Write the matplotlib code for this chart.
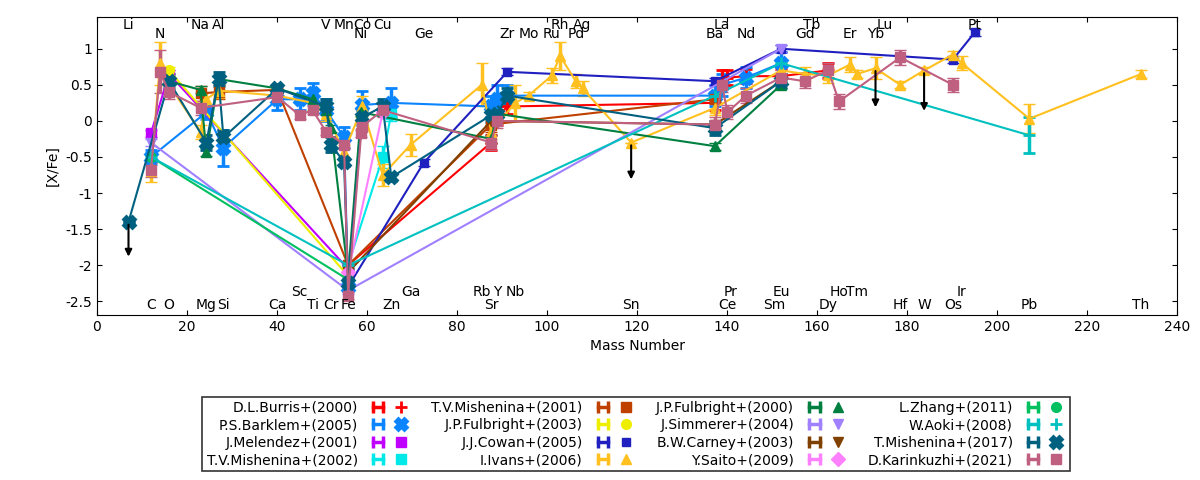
import matplotlib
matplotlib.use("Agg")
import matplotlib.pyplot as plt
from matplotlib.lines import Line2D
from matplotlib.legend_handler import HandlerLine2D, HandlerTuple

# mass numbers of the elements
mass = {
    'Li': 7, 'C': 12, 'N': 14, 'O': 16, 'Na': 23, 'Mg': 24.3, 'Al': 27, 'Si': 28.1,
    'Ca': 40.1, 'Sc': 45, 'Ti': 47.9, 'V': 50.9, 'Cr': 52, 'Mn': 54.9, 'Fe': 55.8,
    'Co': 58.9, 'Ni': 58.7, 'Cu': 63.5, 'Zn': 65.4, 'Ga': 69.7, 'Ge': 72.6,
    'Rb': 85.5, 'Sr': 87.6, 'Y': 88.9, 'Zr': 91.2, 'Nb': 92.9, 'Mo': 95.9,
    'Ru': 101.1, 'Rh': 102.9, 'Pd': 106.4, 'Ag': 107.9, 'Sn': 118.7,
    'Ba': 137.3, 'La': 138.9, 'Ce': 140.1, 'Pr': 140.9, 'Nd': 144.2,
    'Sm': 150.4, 'Eu': 152, 'Gd': 157.3, 'Tb': 158.9, 'Dy': 162.5, 'Ho': 164.9,
    'Er': 167.3, 'Tm': 168.9, 'Yb': 173, 'Lu': 175, 'Hf': 178.5, 'W': 183.8,
    'Os': 190.2, 'Ir': 192.2, 'Pt': 195.1, 'Pb': 207.2, 'Th': 232,
}

top_row1 = ['Li', 'Na', 'Al', 'V', 'Mn', 'Co', 'Cu', 'Rh', 'Ag', 'La', 'Tb', 'Lu', 'Pt']
top_row2 = ['N', 'Ni', 'Ge', 'Zr', 'Mo', 'Ru', 'Pd', 'Ba', 'Nd', 'Gd', 'Er', 'Yb']
bot_row1 = ['Sc', 'Ga', 'Rb', 'Y', 'Nb', 'Pr', 'Eu', 'Ho', 'Tm', 'Ir']
bot_row2 = ['C', 'O', 'Mg', 'Si', 'Ca', 'Ti', 'Cr', 'Fe', 'Zn', 'Sr', 'Sn', 'Ce',
            'Sm', 'Dy', 'Hf', 'W', 'Os', 'Pb', 'Th']

# each series: elements, [X/Fe], errors
burris_el = ['Fe', 'Sr', 'Y', 'Zr', 'Ba', 'La', 'Ce', 'Nd', 'Eu', 'Dy']
burris_v = [-2.0, -0.3, 0.05, 0.2, 0.25, 0.6, 0.6, 0.62, 0.62, 0.7]
burris_e = [0.05, 0.1, 0.1, 0.1, 0.1, 0.1, 0.1, 0.1, 0.1, 0.1]

barklem_el = ['C', 'Mg', 'Si', 'Ca', 'Sc', 'Ti', 'V', 'Mn', 'Fe', 'Co', 'Zn', 'Sr', 'Y', 'Zr', 'Ba', 'La', 'Nd', 'Eu']
barklem_v = [-0.5, 0.12, -0.37, 0.3, 0.3, 0.38, 0.15, -0.23, -2.3, 0.22, 0.25, 0.2, 0.3, 0.35, 0.35, 0.5, 0.6, 0.8]
barklem_e = [0.1, 0.1, 0.25, 0.15, 0.15, 0.15, 0.15, 0.15, 0.05, 0.2, 0.2, 0.15, 0.2, 0.15, 0.15, 0.15, 0.15, 0.15]

melendez_el = ['C', 'O', 'Fe']
melendez_v = [-0.17, 0.65, -2.05]
melendez_e = [0.05, 0.05, 0.05]

mish02_el = ['Fe', 'Cu', 'Zn']
mish02_v = [-2.0, -0.5, 0.1]
mish02_e = [0.05, 0.15, 0.1]

mish01_el = ['Na', 'Al', 'Ca', 'Fe', 'Sr', 'Ba']
mish01_v = [0.38, 0.4, 0.43, -2.0, -0.05, 0.3]
mish01_e = [0.1, 0.1, 0.05, 0.05, 0.1, 0.05]

fulb03_el = ['O', 'Fe']
fulb03_v = [0.7, -2.15]
fulb03_e = [0.05, 0.05]

cowan_el = ['Fe', 'Ge', 'Zr', 'Ba', 'Eu', 'Os', 'Pt']
cowan_v = [-2.3, -0.58, 0.68, 0.55, 1.0, 0.85, 1.23]
cowan_e = [0.05, 0.05, 0.05, 0.05, 0.05, 0.05, 0.05]

ivans_el = ['C', 'N', 'O', 'Na', 'Mg', 'Al', 'Ca', 'Ti', 'V', 'Mn', 'Co', 'Ni', 'Cu', 'Ga',
            'Rb', 'Sr', 'Nb', 'Mo', 'Ru', 'Rh', 'Pd', 'Ag', 'Sn', 'Ba', 'Eu', 'Gd', 'Dy',
            'Er', 'Tm', 'Yb', 'Hf', 'W', 'Os', 'Ir', 'Pb', 'Th']
ivans_v = [-0.7, 0.8, 0.5, -0.15, 0.3, 0.42, 0.35, 0.25, 0.1, -0.43, 0.2, 0.15, -0.75, -0.33,
           0.5, -0.15, 0.25, 0.35, 0.63, 0.9, 0.55, 0.45, -0.3, 0.18, 0.7, 0.65, 0.63,
           0.78, 0.65, 0.73, 0.5, 0.7, 0.92, 0.8, 0.03, 0.65]
ivans_e = [0.15, 0.3, 0.1, 0.1, 0.1, 0.1, 0.1, 0.1, 0.1, 0.1, 0.15, 0.1, 0.15, 0.15,
           0.3, 0.1, 0.25, 0.05, 0.1, 0.2, 0.1, 0.1, 0.0, 0.1, 0.1, 0.1, 0.1,
           0.1, 0.05, 0.15, 0.05, 0.05, 0.05, 0.1, 0.2, 0.05]

fulb00_el = ['O', 'Na', 'Mg', 'Al', 'Ca', 'Ti', 'V', 'Cr', 'Fe', 'Ni', 'Sr', 'Y', 'Ba', 'Eu']
fulb00_v = [0.55, 0.43, -0.43, 0.58, 0.45, 0.3, 0.15, -0.1, -2.13, 0.12, -0.25, 0.1, -0.35, 0.5]
fulb00_e = [0.05, 0.05, 0.05, 0.05, 0.05, 0.05, 0.05, 0.05, 0.05, 0.05, 0.05, 0.05, 0.05, 0.05]

simm_el = ['C', 'Fe', 'Eu']
simm_v = [-0.3, -2.35, 1.0]
simm_e = [0.05, 0.05, 0.05]

carney_el = ['Fe', 'Sr', 'Ba', 'Eu']
carney_v = [-2.1, 0.0, -0.05, 0.55]
carney_e = [0.05, 0.05, 0.05, 0.05]

saito_el = ['Fe', 'Cu']
saito_v = [-2.1, 0.12]
saito_e = [0.05, 0.05]

zhang_el = ['C', 'Fe']
zhang_v = [-0.5, -2.2]
zhang_e = [0.05, 0.05]

aoki_el = ['C', 'Fe', 'Ba', 'Eu', 'Pb']
aoki_v = [-0.5, -2.0, 0.35, 0.8, -0.2]
aoki_e = [0.05, 0.05, 0.05, 0.05, 0.25]

mish17_el = ['Li', 'O', 'Mg', 'Si', 'Al', 'Ca', 'V', 'Cr', 'Mn', 'Fe', 'Co', 'Cu', 'Zn', 'Sr', 'Y', 'Zr', 'Ba', 'Eu']
mish17_v = [-1.4, 0.55, -0.3, -0.23, 0.58, 0.45, 0.2, -0.33, -0.57, -2.25, 0.05, 0.2, -0.78, 0.08, 0.1, 0.35, -0.1, 0.55]
mish17_e = [0.0, 0.1, 0.1, 0.1, 0.1, 0.05, 0.1, 0.1, 0.05, 0.05, 0.1, 0.1, 0.05, 0.1, 0.1, 0.1, 0.1, 0.1]

karin_el = ['C', 'N', 'O', 'Na', 'Ca', 'Sc', 'Ti', 'V', 'Mn', 'Fe', 'Co', 'Ni', 'Cu', 'Sr', 'Y',
            'Ba', 'La', 'Ce', 'Nd', 'Eu', 'Gd', 'Dy', 'Ho', 'Hf', 'Os']
karin_v = [-0.68, 0.68, 0.4, 0.18, 0.33, 0.08, 0.15, -0.15, -0.33, -2.42, -0.08, -0.17, 0.15, -0.3, 0.0,
           -0.05, 0.5, 0.12, 0.35, 0.6, 0.55, 0.7, 0.27, 0.88, 0.5]
karin_e = [0.1, 0.3, 0.1, 0.1, 0.05, 0.05, 0.05, 0.05, 0.05, 0.05, 0.05, 0.05, 0.1, 0.1, 0.1,
           0.1, 0.1, 0.1, 0.1, 0.1, 0.1, 0.1, 0.1, 0.1, 0.1]

# upper limits (element, value, arrow end)
limit_el = ['Li', 'Sn', 'Yb', 'W']
limit_v = [-1.4, -0.3, 0.73, 0.7]
limit_to = [-1.92, -0.85, 0.15, 0.1]

series = [
    ('D.L.Burris+(2000)', burris_el, burris_v, burris_e, '#FF0000', '+'),
    ('P.S.Barklem+(2005)', barklem_el, barklem_v, barklem_e, '#0A84FF', 'X'),
    ('J.Melendez+(2001)', melendez_el, melendez_v, melendez_e, '#C000FF', 's'),
    ('T.V.Mishenina+(2002)', mish02_el, mish02_v, mish02_e, '#00E8E8', 's'),
    ('T.V.Mishenina+(2001)', mish01_el, mish01_v, mish01_e, '#C04000', 's'),
    ('J.P.Fulbright+(2003)', fulb03_el, fulb03_v, fulb03_e, '#EEEE00', 'o'),
    ('J.J.Cowan+(2005)', cowan_el, cowan_v, cowan_e, '#2020C0', 's'),
    ('I.Ivans+(2006)', ivans_el, ivans_v, ivans_e, '#FFC020', '^'),
    ('J.P.Fulbright+(2000)', fulb00_el, fulb00_v, fulb00_e, '#008040', '^'),
    ('J.Simmerer+(2004)', simm_el, simm_v, simm_e, '#A080FF', 'v'),
    ('B.W.Carney+(2003)', carney_el, carney_v, carney_e, '#804000', 'v'),
    ('Y.Saito+(2009)', saito_el, saito_v, saito_e, '#FF80FF', 'D'),
    ('L.Zhang+(2011)', zhang_el, zhang_v, zhang_e, '#00C060', 'o'),
    ('W.Aoki+(2008)', aoki_el, aoki_v, aoki_e, '#00C0C0', '+'),
    ('T.Mishenina+(2017)', mish17_el, mish17_v, mish17_e, '#006080', 'X'),
    ('D.Karinkuzhi+(2021)', karin_el, karin_v, karin_e, '#C06080', 's'),
]

plt.rcParams['font.family'] = ['DejaVu Sans']
fig = plt.figure(figsize=(12, 4.8), dpi=100)
ax = fig.add_axes([97 / 1200, 1 - 315 / 480, 1080 / 1200, 298 / 480])

handles = []
hmap = {}
for label, els, vals, errs, color, mk in series:
    xs = [mass[e] for e in els]
    order = sorted(range(len(xs)), key=lambda i: xs[i])
    xs = [xs[i] for i in order]
    ys = [vals[i] for i in order]
    es = [errs[i] for i in order]
    ms = 9 if mk in ('+', 'X') else 7
    if label.startswith('J.J.Cowan'):
        ms = 6
    mew = 2 if mk in ('+', 'X') else 1
    ax.errorbar(xs, ys, yerr=es, color=color, marker=mk, markersize=ms, lw=1.5,
                elinewidth=2.5, capsize=4, capthick=2, markeredgewidth=mew)
    # gnuplot-like legend sample: horizontal line with end caps and a centre marker
    caps = Line2D([], [], color=color, lw=2.5, marker='|', markersize=9, markeredgewidth=2.5)
    centre = Line2D([], [], color=color, lw=0, marker=mk, markersize=ms, markeredgewidth=mew)
    hmap[centre] = HandlerLine2D(numpoints=1)
    handles.append((caps, centre))

for el, v, t in zip(limit_el, limit_v, limit_to):
    ax.annotate('', xy=(mass[el], t), xytext=(mass[el], v),
                arrowprops=dict(arrowstyle='-|>', color='black', lw=1.5, mutation_scale=10))

for row, y in ((top_row1, 1.33), (top_row2, 1.2), (bot_row1, -2.37), (bot_row2, -2.55)):
    for el in row:
        ax.text(mass[el], y, el, ha='center', va='center', fontsize=10)

ax.set_xlim(0, 240)
ax.set_ylim(-2.69, 1.44)
ax.set_xticks(range(0, 241, 20))
ax.set_yticks([-2.5, -2, -1.5, -1, -0.5, 0, 0.5, 1])
ax.set_yticklabels(['-2.5', '-2', '-1.5', '-1', '-0.5', '0', '0.5', '1'])
ax.tick_params(direction='in', top=True, right=True, labelsize=10)
ax.set_xlabel('Mass Number', fontsize=10)
ax.set_ylabel('[X/Fe]', fontsize=10)

leg = fig.legend(handles, [s[0] for s in series], handler_map=hmap | {tuple: HandlerTuple(ndivide=None)},
                 loc='center', bbox_to_anchor=(636 / 1200, 1 - 434 / 480), ncol=4,
                 markerfirst=False, fontsize=10, frameon=True, fancybox=False,
                 edgecolor='black', handlelength=3, columnspacing=1.5, numpoints=2,
                 labelspacing=0.25, borderpad=0.3)
leg.get_frame().set_linewidth(1.2)

fig.savefig('out.png', dpi=100)
